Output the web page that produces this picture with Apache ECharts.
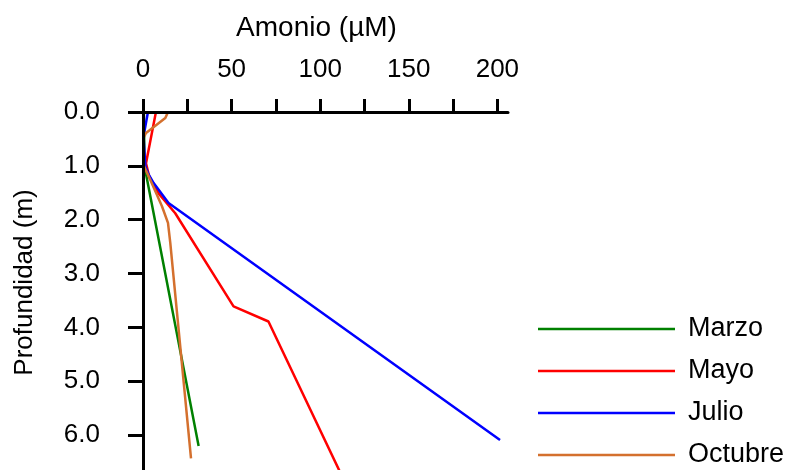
<!DOCTYPE html>
<html>
<head>
<meta charset="utf-8">
<script src="https://cdn.jsdelivr.net/npm/echarts@6/dist/echarts.min.js"></script>
<style>html,body{margin:0;padding:0;background:#fff;}#c{width:790px;height:470px;}</style>
</head>
<body>
<div id="c"></div>
<script>
// Depth (m) and ammonium (µM) values
const seriesNames = ['Marzo', 'Mayo', 'Julio', 'Octubre'];
const marzoDepth = [0, 1.0, 6.2];
const marzoVal   = [0.5, 0.8, 31.4];
const mayoDepth  = [0, 0.95, 1.2, 1.51, 1.88, 3.61, 3.89, 6.74];
const mayoVal    = [7.3, 1.7, 3.5, 8.8, 18.2, 51.1, 70.8, 112];
const julioDepth = [0, 0.45, 1.0, 1.15, 1.32, 1.69, 6.09];
const julioVal   = [2.8, 0.3, 1.3, 3.0, 6.0, 14.4, 201.5];
const octDepth   = [0, 0.11, 0.39, 0.48, 1.0, 1.26, 1.75, 2.06, 2.43, 6.43];
const octVal     = [14.1, 12.6, 1.7, 0.3, 0.5, 4.1, 10.7, 14.1, 15.4, 27.1];
const xTickValues  = [0, 25, 50, 75, 100, 125, 150, 175, 200];
const xLabelValues = [0, 50, 100, 150, 200];
const colors = ['#008000', '#ff0000', '#0000ff', '#d4702e'];

function pairs(vals, depths) { return vals.map((v, i) => [v, depths[i]]); }
const allData = [pairs(marzoVal, marzoDepth), pairs(mayoVal, mayoDepth), pairs(julioVal, julioDepth), pairs(octVal, octDepth)];

const FONT = 'Arial, "Liberation Sans", sans-serif';
const chart = echarts.init(document.getElementById('c'), null, {renderer: 'canvas'});
chart.setOption({
  animation: false,
  backgroundColor: '#ffffff',
  color: colors,
  grid: {left: 143, top: 112, width: 365, height: 377, containLabel: false, outerBoundsMode: 'none'},
  xAxis: {
    type: 'value', position: 'top', min: 0, max: 206, z: 5,
    name: 'Amonio (µM)', nameLocation: 'middle', nameGap: 70,
    nameTextStyle: {fontFamily: FONT, fontSize: 28, color: '#000', padding: [0, 18, 0, 0]},
    axisLine: {show: true, onZero: false, lineStyle: {color: '#000', width: 3}},
    axisTick: {show: true, length: 13, lineStyle: {color: '#000', width: 3}, customValues: xTickValues},
    axisLabel: {fontFamily: FONT, fontSize: 26, color: '#000', margin: 29, customValues: xLabelValues},
    splitLine: {show: false}
  },
  yAxis: {
    type: 'value', inverse: true, min: 0, max: 7, interval: 1, z: 5,
    name: 'Profundidad (m)', nameLocation: 'middle', nameGap: 105,
    nameTextStyle: {fontFamily: FONT, fontSize: 26, color: '#000', padding: [0, 0, 0, 36]},
    axisLine: {show: true, onZero: false, lineStyle: {color: '#000', width: 3}},
    axisTick: {show: true, length: 15, lineStyle: {color: '#000', width: 3}},
    axisLabel: {fontFamily: FONT, fontSize: 26, color: '#000', margin: 43, formatter: v => v.toFixed(1)},
    splitLine: {show: false}
  },
  legend: {
    orient: 'vertical', left: 533, top: 310, height: 160,
    icon: 'rect', itemWidth: 137, itemHeight: 2.5, itemGap: 14,
    textStyle: {fontFamily: FONT, fontSize: 27, color: '#000', padding: [0, 0, 0, 8], lineHeight: 28},
    data: seriesNames
  },
  series: seriesNames.map((n, i) => ({
    name: n, type: 'line', data: allData[i], symbol: 'none', showSymbol: false,
    smooth: false, clip: false,
    lineStyle: {color: colors[i], width: 2.5}, itemStyle: {color: colors[i]}
  }))
});
</script>
</body>
</html>
